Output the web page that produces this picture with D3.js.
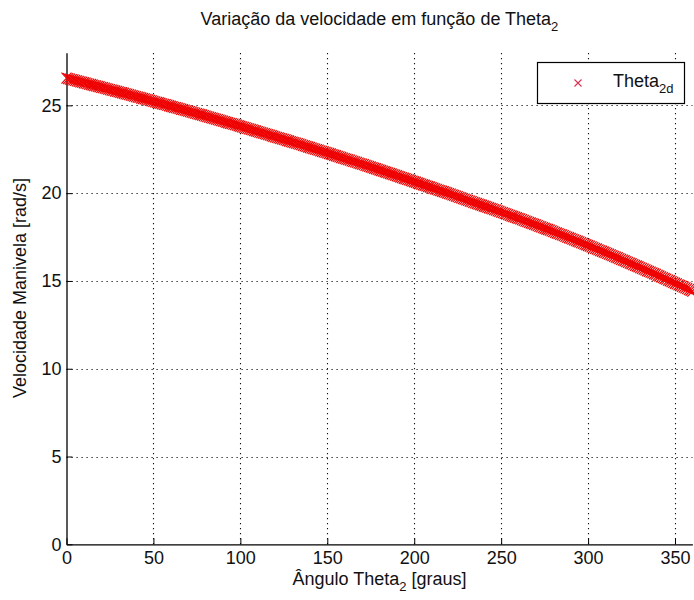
<!DOCTYPE html>
<html>
<head>
<meta charset="utf-8">
<script src="https://cdn.jsdelivr.net/npm/d3@7"></script>
<style>
  html, body { margin: 0; padding: 0; background: #fff; }
  svg { display: block; }
  text { font-family: "Liberation Sans", Arial, Helvetica, sans-serif; fill: #111; }
</style>
</head>
<body>
<svg id="chart" width="694" height="600"></svg>
<script>
// Crank angle sampled every degree, 0..360
const angleStep = 1;
// Crank angular velocity [rad/s] at each sampled angle (one row per 10 degrees)
const velocity = [
  26.55, 26.52, 26.50, 26.47, 26.45, 26.42, 26.39, 26.37, 26.34, 26.32,
  26.29, 26.27, 26.24, 26.21, 26.19, 26.16, 26.13, 26.11, 26.08, 26.06,
  26.03, 26.01, 25.98, 25.95, 25.93, 25.90, 25.87, 25.85, 25.82, 25.80,
  25.77, 25.74, 25.72, 25.69, 25.66, 25.64, 25.61, 25.58, 25.55, 25.53,
  25.50, 25.47, 25.45, 25.42, 25.39, 25.37, 25.34, 25.31, 25.28, 25.26,
  25.23, 25.20, 25.17, 25.15, 25.12, 25.09, 25.06, 25.04, 25.01, 24.98,
  24.95, 24.92, 24.89, 24.87, 24.84, 24.81, 24.78, 24.76, 24.73, 24.70,
  24.67, 24.64, 24.61, 24.59, 24.56, 24.53, 24.50, 24.48, 24.45, 24.42,
  24.39, 24.36, 24.33, 24.30, 24.27, 24.25, 24.22, 24.19, 24.16, 24.13,
  24.10, 24.07, 24.04, 24.01, 23.98, 23.96, 23.93, 23.90, 23.87, 23.84,
  23.81, 23.78, 23.75, 23.72, 23.69, 23.66, 23.63, 23.60, 23.57, 23.54,
  23.51, 23.48, 23.45, 23.42, 23.39, 23.36, 23.33, 23.30, 23.27, 23.24,
  23.21, 23.18, 23.15, 23.12, 23.09, 23.06, 23.03, 23.00, 22.97, 22.94,
  22.91, 22.88, 22.85, 22.82, 22.79, 22.76, 22.72, 22.69, 22.66, 22.63,
  22.60, 22.57, 22.54, 22.51, 22.48, 22.45, 22.41, 22.38, 22.35, 22.32,
  22.29, 22.26, 22.23, 22.20, 22.16, 22.13, 22.10, 22.07, 22.03, 22.00,
  21.97, 21.94, 21.91, 21.88, 21.84, 21.81, 21.78, 21.75, 21.71, 21.68,
  21.65, 21.62, 21.58, 21.55, 21.52, 21.49, 21.45, 21.42, 21.39, 21.36,
  21.32, 21.29, 21.25, 21.22, 21.19, 21.16, 21.12, 21.09, 21.06, 21.03,
  20.99, 20.96, 20.92, 20.89, 20.85, 20.82, 20.79, 20.76, 20.72, 20.69,
  20.65, 20.62, 20.58, 20.55, 20.51, 20.48, 20.45, 20.42, 20.38, 20.35,
  20.31, 20.28, 20.24, 20.21, 20.17, 20.14, 20.11, 20.08, 20.04, 20.01,
  19.97, 19.94, 19.90, 19.87, 19.83, 19.80, 19.76, 19.73, 19.69, 19.66,
  19.62, 19.59, 19.55, 19.52, 19.48, 19.45, 19.41, 19.38, 19.34, 19.31,
  19.27, 19.24, 19.20, 19.17, 19.13, 19.10, 19.06, 19.03, 18.99, 18.96,
  18.92, 18.89, 18.85, 18.82, 18.78, 18.74, 18.70, 18.67, 18.63, 18.60,
  18.56, 18.53, 18.49, 18.45, 18.41, 18.38, 18.34, 18.30, 18.26, 18.23,
  18.19, 18.15, 18.11, 18.08, 18.04, 18.00, 17.96, 17.93, 17.89, 17.85,
  17.81, 17.77, 17.73, 17.69, 17.65, 17.62, 17.58, 17.54, 17.50, 17.46,
  17.42, 17.38, 17.34, 17.30, 17.26, 17.22, 17.18, 17.14, 17.10, 17.06,
  17.02, 16.98, 16.94, 16.90, 16.86, 16.82, 16.77, 16.73, 16.69, 16.65,
  16.61, 16.57, 16.53, 16.49, 16.44, 16.40, 16.36, 16.32, 16.27, 16.23,
  16.19, 16.15, 16.10, 16.06, 16.02, 15.98, 15.93, 15.89, 15.85, 15.81,
  15.76, 15.72, 15.67, 15.63, 15.58, 15.54, 15.50, 15.46, 15.41, 15.37,
  15.32, 15.28, 15.23, 15.19, 15.14, 15.10, 15.05, 15.01, 14.96, 14.92,
  14.87, 14.83, 14.78, 14.74, 14.69, 14.65, 14.60, 14.56, 14.51, 14.47,
  14.42
];
const angles = velocity.map((_, i) => i * angleStep);

const xTicks = [0, 50, 100, 150, 200, 250, 300, 350];
const yTicks = [0, 5, 10, 15, 20, 25];
const xDomain = [0, 360];
const yDomain = [0, 28];

const titleText = "Variação da velocidade em função de Theta";
const titleSub = "2";
const xLabelMain = "Ângulo Theta";
const xLabelSub = "2";
const xLabelTail = " [graus]";
const yLabelText = "Velocidade Manivela [rad/s]";
const legendMain = "Theta";
const legendSub = "2d";

const W = 694, H = 600;
const plot = { left: 66.5, right: 692.4, top: 52.7, bottom: 544.3 };
const FONT = 18, SUBFONT = 13;
const RED = "#ee0000";

const svg = d3.select("#chart");
svg.append("rect").attr("width", W).attr("height", H).attr("fill", "#fff");

const x = d3.scaleLinear().domain(xDomain).range([plot.left, plot.right]);
const y = d3.scaleLinear().domain(yDomain).range([plot.bottom, plot.top]);

// dotted grid
const grid = svg.append("g").attr("stroke", "#111").attr("stroke-width", 1.1)
  .attr("stroke-dasharray", "1.2,3.8").attr("fill", "none");
xTicks.filter(t => t > 0).forEach(t => {
  grid.append("line").attr("x1", Math.round(x(t)) + 0.5).attr("x2", Math.round(x(t)) + 0.5)
    .attr("y1", plot.bottom).attr("y2", plot.top);
});
yTicks.filter(t => t > 0).forEach(t => {
  grid.append("line").attr("y1", Math.round(y(t)) + 0.5).attr("y2", Math.round(y(t)) + 0.5)
    .attr("x1", plot.left).attr("x2", plot.right);
});

// axes: inward ticks, labels outside
const xAxis = d3.axisBottom(x).tickValues(xTicks).tickSizeInner(-6).tickSizeOuter(0).tickPadding(7);
const yAxis = d3.axisLeft(y).tickValues(yTicks).tickSizeInner(-6).tickSizeOuter(0).tickPadding(5);

const gx = svg.append("g").attr("transform", `translate(0,${plot.bottom})`).call(xAxis);
const gy = svg.append("g").attr("transform", `translate(${plot.left},0)`).call(yAxis);
[gx, gy].forEach(g => {
  g.select(".domain").attr("stroke", "#000").attr("stroke-width", 1.3);
  g.selectAll(".tick line").attr("stroke", "#000").attr("stroke-width", 1);
  g.selectAll(".tick text").attr("font-size", FONT).attr("font-family", "Liberation Sans, Arial, sans-serif").attr("fill", "#111");
});

// markers 'x'
const hw = 5, hh = 5.5;
const marks = svg.append("g").attr("stroke", RED).attr("stroke-width", 1.2).attr("fill", "none");
marks.selectAll("path").data(angles.map((a, i) => [a, velocity[i]])).join("path")
  .attr("d", d => {
    const cx = x(d[0]), cy = y(d[1]);
    return `M${cx - hw},${cy - hh}L${cx + hw},${cy + hh}M${cx - hw},${cy + hh}L${cx + hw},${cy - hh}`;
  });

// title
const title = svg.append("text").attr("x", (plot.left + plot.right) / 2).attr("y", 25)
  .attr("text-anchor", "middle").attr("font-size", FONT);
title.append("tspan").text(titleText);
title.append("tspan").attr("dy", 6).attr("font-size", SUBFONT).text(titleSub);

// x label
const xl = svg.append("text").attr("x", (plot.left + plot.right) / 2).attr("y", 585)
  .attr("text-anchor", "middle").attr("font-size", FONT);
xl.append("tspan").text(xLabelMain);
xl.append("tspan").attr("dy", 6).attr("font-size", SUBFONT).text(xLabelSub);
xl.append("tspan").attr("dy", -6).text(xLabelTail);

// y label
svg.append("text")
  .attr("transform", `translate(26,288) rotate(-90)`)
  .attr("text-anchor", "middle").attr("font-size", FONT).text(yLabelText);

// legend
const lg = svg.append("g");
lg.append("rect").attr("x", 537.5).attr("y", 62.5).attr("width", 147).attr("height", 41)
  .attr("fill", "#fff").attr("stroke", "#000").attr("stroke-width", 1.2);
const lx = 578, ly = 83, lh = 3.5;
lg.append("path").attr("d", `M${lx - lh},${ly - lh}L${lx + lh},${ly + lh}M${lx - lh},${ly + lh}L${lx + lh},${ly - lh}`)
  .attr("stroke", "#e03050").attr("stroke-width", 1.1);
const lt = lg.append("text").attr("x", 613).attr("y", 87).attr("font-size", FONT);
lt.append("tspan").text(legendMain);
lt.append("tspan").attr("dy", 6).attr("font-size", SUBFONT).text(legendSub);
</script>
</body>
</html>
